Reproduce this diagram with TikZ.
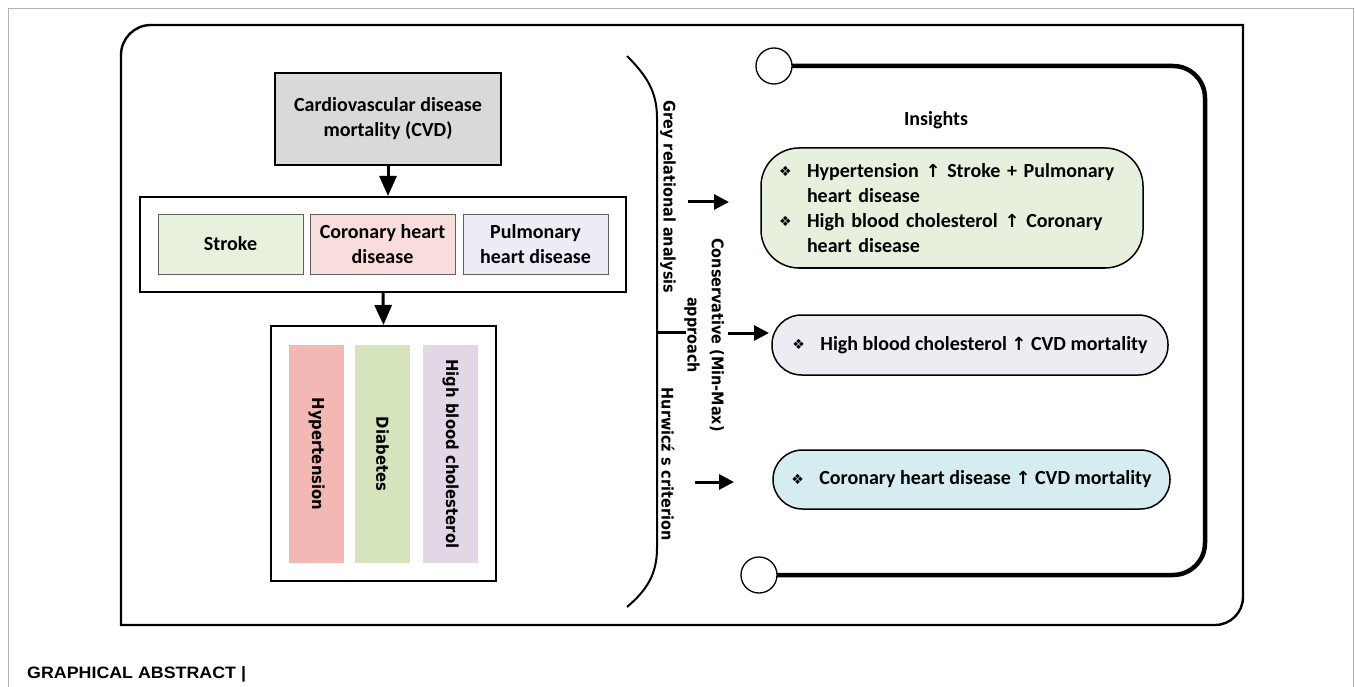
\documentclass[tikz,border=0pt]{standalone}
\usepackage{fontspec}
\setmainfont{Carlito}
\newfontfamily\vfont{DejaVu Sans}
\newfontfamily\symfont{DejaVu Sans}
\newfontfamily\capfont{Liberation Sans}
\usetikzlibrary{arrows.meta}
\definecolor{cvdgrey}{HTML}{D9D9D9}
\definecolor{strokeg}{HTML}{E8F1DE}
\definecolor{coronp}{HTML}{F9DCDC}
\definecolor{pulml}{HTML}{EDEBF3}
\definecolor{hyperc}{HTML}{F3B8B3}
\definecolor{diabc}{HTML}{D6E4BE}
\definecolor{highc}{HTML}{E2D7E7}
\definecolor{insg}{HTML}{E7F0DD}
\definecolor{insl}{HTML}{EEEBF3}
\definecolor{insc}{HTML}{D5EDF1}
\newcommand\bul{\makebox[28pt][l]{\raisebox{0.5pt}{\symfont\fontsize{14}{14}\selectfont ❖}}}
\newcommand\uparr{{\symfont\bfseries\fontsize{18}{25}\selectfont ↑}}
\newcommand\vtx[2]{\scalebox{0.9}[1]{\vfont\bfseries\fontsize{#1}{25}\selectfont #2}}
\begin{document}
\begin{tikzpicture}[x=1pt,y=-1pt,
  txt/.style={font=\fontsize{20}{25}\selectfont\bfseries, align=center},
  blackbox/.style={draw, line width=2pt},
  catbox/.style={draw=gray!75!black, line width=0.8pt, minimum width=145pt, minimum height=60pt, inner sep=0pt, txt},
  bar/.style={minimum width=55pt, minimum height=218pt, inner sep=0pt},
  vtext/.style={rotate=-90, align=center, inner sep=0pt},
  insbox/.style={draw, line width=1.5pt, txt},
  harr/.style={line width=3pt, -{Triangle[length=15pt,width=15pt]}},
  varr/.style={line width=3pt, -{Triangle[length=20pt,width=17pt]}},
  ring/.style={circle, draw, fill=white, line width=1.3pt, minimum size=36pt, inner sep=0pt}
]
\useasboundingbox (0,0) rectangle (1355,687);
% outer grey frame
\draw[gray!60, line width=0.8pt] (8,687) -- (8,8) -- (1353,8) -- (1353,687);
% main frame
\draw[line width=2.4pt] (121,625) -- (121,55) .. controls (121,38.4) and (134.4,25) .. (151,25)
  -- (1243,25) -- (1243,597) .. controls (1243,612.5) and (1230.5,625) .. (1215,625) -- cycle;

% left part
\node[blackbox, fill=cvdgrey, minimum width=226pt, minimum height=92pt, txt] (cvd) at (388,119) {Cardiovascular disease\\mortality (CVD)};
\node[blackbox, minimum width=486pt, minimum height=95pt] (box2) at (383,244.5) {};
\node[catbox, fill=strokeg] (stroke) at (230.5,244) {Stroke};
\node[catbox, fill=coronp] (coron) at (382.5,244) {Coronary heart\\disease};
\node[catbox, fill=pulml] (pulm) at (535.5,244) {Pulmonary\\heart disease};
\node[blackbox, minimum width=225pt, minimum height=255pt] (box3) at (383.5,453.5) {};
\node[bar, fill=hyperc] (hyper) at (316.5,454) {};
\node[bar, fill=diabc] (diab) at (382.5,454) {};
\node[bar, fill=highc] (high) at (450.5,454) {};
\node[vtext] (hypert) at (hyper) {\vtx{16.5}{Hypertension}};
\node[vtext] (diabt) at (diab) {\vtx{16.5}{Diabetes}};
\node[vtext] (hight) at (high) {\vtx{16.5}{High blood cholesterol}};
\draw[varr] (cvd.south) -- (cvd.south |- box2.north);
\draw[varr] (box2.south) -- (box3.north);

% bracket
\draw[line width=2pt] (627,56) .. controls (647,76) and (657,92) .. (657,118) -- (657,548)
  .. controls (657,574) and (647,590) .. (627,607);
\coordinate (tickA) at (657,332);
\coordinate (tickB) at (686,332);
\draw[line width=3pt] (tickA) -- (tickB);
\node[vtext] (gra) at (668,197) {\vtx{16}{Grey relational analysis}};
\node[vtext] (cons) at (717,335) {\vtx{16}{Conservative (Min-Max)}};
\node[vtext] (cons2) at (692,335) {\vtx{16}{approach}};
\node[vtext] (hur) at (668,464) {\vtx{16}{Hurwicź s criterion}};

% arrows
\coordinate (a1s) at (688,202); \coordinate (a1e) at (729,202);
\coordinate (a2s) at (728,333); \coordinate (a2e) at (769,333);
\coordinate (a3s) at (695,482); \coordinate (a3e) at (734,482);
\draw[harr] (a1s) -- (a1e);
\draw[harr] (a2s) -- (a2e);
\draw[harr] (a3s) -- (a3e);

% insights track
\coordinate (c1) at (774,66);
\coordinate (c2) at (759,575);
\draw[line width=4.5pt] (c1) -- (1173,66) .. controls (1190.7,66) and (1205,80.3) .. (1205,98)
  -- (1205,543) .. controls (1205,560.7) and (1190.7,575) .. (1173,575) -- (c2);
\node[ring] (r1) at (c1) {};
\node[ring] (r2) at (c2) {};
\node[txt] (insights) at (936,120) {Insights};

\node[insbox, fill=insg, rounded corners=38pt, minimum height=120pt, text width=346pt, inner xsep=18pt, align=left] (ins1) at (952,208)
  {\bul Hypertension \uparr{} Stroke + Pulmonary\\\hspace*{28pt}heart disease\\\bul High blood cholesterol \uparr{} Coronary\\\hspace*{28pt}heart disease};
\node[insbox, fill=insl, rounded corners=29.5pt, minimum width=396pt, minimum height=60pt, inner sep=0pt] (ins2) at (970,345)
  {\bul High blood cholesterol \uparr{} CVD mortality};
\node[insbox, fill=insc, rounded corners=29.5pt, minimum width=397pt, minimum height=59pt, inner sep=0pt] (ins3) at (971.5,479.5)
  {\bul Coronary heart disease \uparr{} CVD mortality};

% caption
\node[anchor=base west, inner sep=0pt, font=\capfont\bfseries\fontsize{16.5}{20}\selectfont] (cap) at (27,678) {\scalebox{1.08}[1]{GRAPHICAL ABSTRACT |}};
\end{tikzpicture}
\end{document}
